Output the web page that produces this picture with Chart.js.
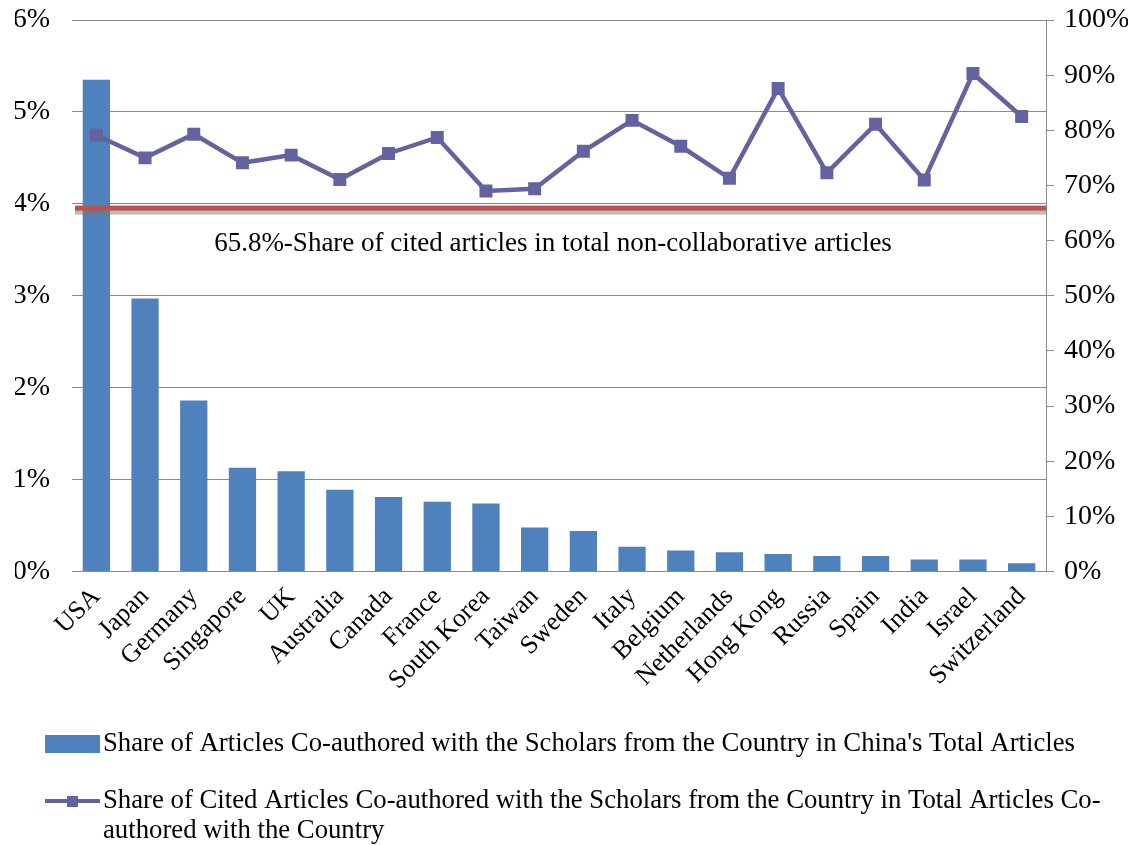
<!DOCTYPE html>
<html>
<head>
<meta charset="utf-8">
<script src="https://cdn.jsdelivr.net/npm/chart.js@4.4.0/dist/chart.umd.min.js"></script>
<style>
  html, body { margin: 0; padding: 0; background: #fff; }
  #wrap { width: 1141px; height: 845px; position: relative; }
</style>
</head>
<body>
<div id="wrap"><canvas id="myChart"></canvas></div>
<script>
const countries = ['USA', 'Japan', 'Germany', 'Singapore', 'UK', 'Australia', 'Canada', 'France',
  'South Korea', 'Taiwan', 'Sweden', 'Italy', 'Belgium', 'Netherlands', 'Hong Kong', 'Russia',
  'Spain', 'India', 'Israel', 'Switzerland'];

// % of China's total articles co-authored with the country (left axis)
const coauthorShare = [5.35, 2.97, 1.86, 1.13, 1.09, 0.89, 0.81, 0.76, 0.74, 0.48,
  0.44, 0.27, 0.23, 0.21, 0.19, 0.17, 0.17, 0.13, 0.13, 0.09];

// % of co-authored articles that were cited (right axis)
const citedShare = [79.1, 75.0, 79.3, 74.1, 75.5, 71.1, 75.8, 78.7, 69.0, 69.4,
  76.2, 81.8, 77.1, 71.3, 87.6, 72.3, 81.1, 71.0, 90.3, 82.5];

const nonCollabCited = 65.8;
const nonCollabLabel = '65.8%-Share of cited articles in total non-collaborative articles';

const barColor = '#4F81BD';
const lineColor = '#64629F';
const serif = '"Liberation Serif", "Times New Roman", serif';

// drop the label overflow padding chart.js adds around the plot
const noPad = s => { s.paddingLeft = 0; s.paddingRight = 0; s.paddingTop = 0; s.paddingBottom = 0; };
const fixWidth = w => s => { noPad(s); s.width = w; };

// red reference line + its caption
const refLinePlugin = {
  id: 'refLine',
  afterDatasetsDraw(chart) {
    const ctx = chart.ctx;
    const area = chart.chartArea;
    const y = chart.scales.y1.getPixelForValue(nonCollabCited);
    ctx.save();
    ctx.fillStyle = 'rgba(120,120,120,0.5)';
    ctx.fillRect(area.left + 3, y + 1, area.right - area.left - 3, 5);
    ctx.fillStyle = '#C0504D';
    ctx.fillRect(area.left + 3, y - 3, area.right - area.left - 3, 5);
    ctx.fillStyle = '#000';
    ctx.font = '27px ' + serif;
    ctx.textAlign = 'center';
    ctx.textBaseline = 'middle';
    ctx.fillText(nonCollabLabel, (area.left + area.right) / 2 - 6, y + 35);
    ctx.restore();
  }
};

// split text into pieces that may break after a space or a hyphen
function tokens(text) {
  const out = [];
  text.split(' ').forEach((w, i, arr) => {
    const parts = w.split(/(?<=-)/);
    parts.forEach((p, j) => {
      const last = j === parts.length - 1 && i < arr.length - 1;
      out.push(p + (last ? ' ' : ''));
    });
  });
  return out;
}

function wrap(ctx, text, maxW) {
  const lines = [];
  let cur = '';
  tokens(text).forEach(t => {
    if (cur && ctx.measureText((cur + t).trimEnd()).width > maxW) {
      lines.push(cur.trimEnd());
      cur = t;
    } else {
      cur += t;
    }
  });
  if (cur) lines.push(cur.trimEnd());
  return lines;
}

// legend under the chart, text squeezed like the original
const legendPlugin = {
  id: 'bottomLegend',
  afterDraw(chart) {
    const ctx = chart.ctx;
    const sets = chart.data.datasets;
    const bar = sets.find(d => d.type === 'bar');
    const line = sets.find(d => d.type === 'line');
    const textX = 103;
    ctx.save();
    ctx.font = '28px ' + serif;
    ctx.textBaseline = 'middle';
    const squeeze = (1075 - textX) / ctx.measureText(bar.label).width;

    // bar item
    let y = 744;
    ctx.fillStyle = bar.backgroundColor;
    ctx.fillRect(45, y - 9, 55, 18);
    ctx.fillStyle = '#000';
    ctx.save();
    ctx.translate(textX, y);
    ctx.scale(squeeze, 1);
    ctx.fillText(bar.label, 0, 0);
    ctx.restore();

    // line item
    y = 801;
    ctx.strokeStyle = line.borderColor;
    ctx.lineWidth = 4;
    ctx.beginPath();
    ctx.moveTo(45, y);
    ctx.lineTo(100, y);
    ctx.stroke();
    ctx.fillStyle = line.borderColor;
    ctx.fillRect(67, y - 5, 11, 11);
    ctx.fillStyle = '#000';
    const lines = wrap(ctx, line.label, (1105 - textX) / squeeze);
    lines.forEach((l, i) => {
      ctx.save();
      ctx.translate(textX, y + i * 30);
      ctx.scale(squeeze, 1);
      ctx.fillText(l, 0, 0);
      ctx.restore();
    });
    ctx.restore();
  }
};

const ctx = document.getElementById('myChart').getContext('2d');

new Chart(ctx, {
  type: 'bar',
  data: {
    labels: countries,
    datasets: [{
      type: 'line',
      label: 'Share of Cited Articles Co-authored with the Scholars from the Country in Total Articles Co-authored with the Country',
      data: citedShare,
      yAxisID: 'y1',
      borderColor: lineColor,
      backgroundColor: lineColor,
      borderWidth: 4.5,
      pointStyle: 'rect',
      pointRadius: 6,
      pointHoverRadius: 6,
      tension: 0,
      order: 0
    }, {
      type: 'bar',
      label: "Share of Articles Co-authored with the Scholars from the Country in China's Total Articles",
      data: coauthorShare,
      yAxisID: 'y',
      backgroundColor: barColor,
      barPercentage: 0.56,
      categoryPercentage: 1.0,
      order: 1
    }]
  },
  options: {
    responsive: true,
    maintainAspectRatio: false,
    animation: false,
    layout: { autoPadding: false, padding: { left: 15, right: 13, top: 20, bottom: 139 } },
    plugins: {
      legend: { display: false },
      tooltip: { enabled: false }
    },
    scales: {
      x: {
        afterFit: noPad,
        grid: { display: false, drawTicks: false },
        border: { display: true, color: '#8a8a8a' },
        ticks: {
          color: '#000',
          font: { family: serif, size: 26 },
          minRotation: 45,
          maxRotation: 45,
          autoSkip: false,
          padding: 10
        }
      },
      y: {
        position: 'left',
        afterFit: fixWidth(57),
        min: 0,
        max: 6,
        grid: { color: '#8a8a8a', lineWidth: 1, drawTicks: false },
        border: { display: false },
        ticks: {
          stepSize: 1,
          color: '#000',
          font: { family: serif, size: 28 },
          padding: 22,
          callback: v => v + '%'
        }
      },
      y1: {
        position: 'right',
        afterFit: fixWidth(82),
        min: 0,
        max: 100,
        grid: { drawOnChartArea: false, color: '#8a8a8a', tickLength: 8 },
        border: { display: true, color: '#8a8a8a' },
        ticks: {
          stepSize: 10,
          color: '#000',
          font: { family: serif, size: 28 },
          padding: 10,
          callback: v => v + '%'
        }
      }
    }
  },
  plugins: [refLinePlugin, legendPlugin]
});
</script>
</body>
</html>
